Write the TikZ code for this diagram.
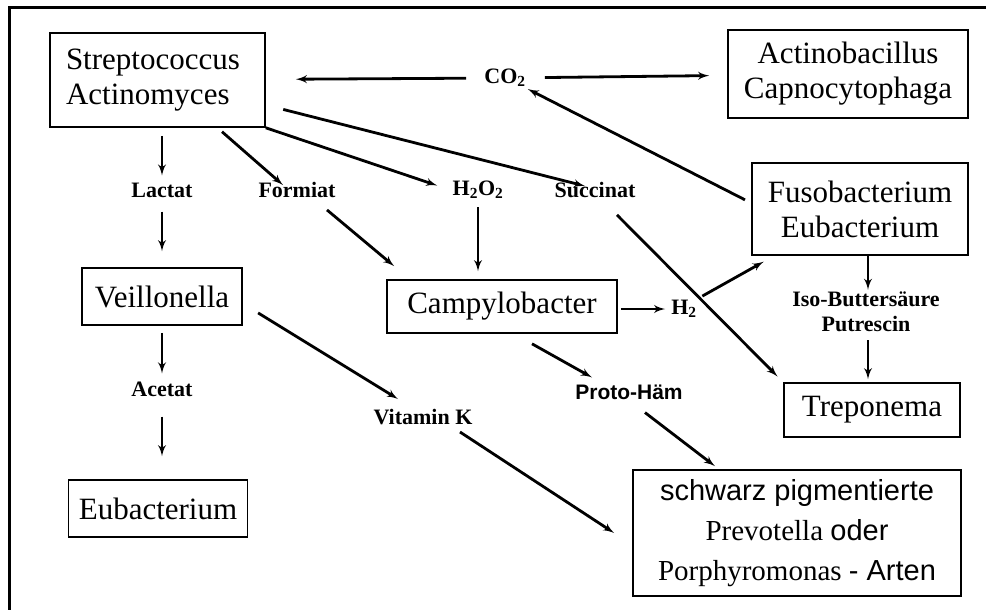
\documentclass[tikz,border=0pt]{standalone}
\usepackage{fontspec}
\setmainfont{Liberation Serif}
\newfontfamily\arial{Liberation Sans}
\usetikzlibrary{shapes,arrows}
\tikzstyle{block} = [rectangle, draw, line width=1.6pt, align=center,
    inner sep=0pt, font=\fontsize{31}{35}\selectfont]
\tikzstyle{stoff} = [inner sep=2pt, align=center, font=\fontsize{22}{25}\selectfont\bfseries]
\tikzstyle{line} = [draw, line width=2.8pt, -latex']

\begin{document}
\begin{tikzpicture}[x=1pt, y=-1pt, node distance=100pt]
	\useasboundingbox (0,0) rectangle (986,610);
	\draw [line width=3pt] (9,610) -- (9,8) -- (986,8);

		\node [block, align=left, text width=183pt, inner xsep=16pt, minimum height=94pt] (strep) at (157.5,80) {Streptococcus\\Actinomyces};
		\node [block, minimum width=240pt, minimum height=88pt] (actino) at (848,74) {Actinobacillus\\Capnocytophaga};
		\node [block, minimum width=216pt, minimum height=92pt] (fuso) at (860,209) {Fusobacterium\\Eubacterium};
		\node [block, minimum width=230pt, minimum height=53pt] (campy) at (502,306.5) {Campylobacter};
		\node [block, minimum width=176pt, minimum height=54pt] (trepo) at (872,410) {Treponema};
		\node [block, minimum width=328pt, minimum height=126pt, font=\fontsize{29}{40}\selectfont] (prev) at (797,533)
			{{\arial schwarz pigmentierte}\\Prevotella {\arial oder}\\Porphyromonas {\arial - Arten}};
		
		\node [stoff] (co2) at (505,78) {CO\textsubscript{2}};
		\node [stoff] (lactat) at (162,190) {Lactat};
		\node [block, below of=lactat, node distance=106.5pt, minimum width=160pt, minimum height=57pt] (veil) {Veillonella};
		\node [stoff, below of=veil, node distance=92.5pt] (acetat) {Acetat};
		\node [block, below of=acetat, node distance=119.5pt, xshift=-4pt, minimum width=179pt, minimum height=57pt] (eubac) {Eubacterium};
		\node [stoff] (formiat) at (297,190) {Formiat};
		\node [stoff] (h2o2) at (478,190) {H\textsubscript{2}O\textsubscript{2}};
		\node [stoff] (succinat) at (595,190) {Succinat};
		\node [stoff] (h2) at (684,309) {H\textsubscript{2}};
		\node [stoff] (iso) at (866,312) {Iso-Buttersäure\\Putrescin};
		\node [stoff, font=\fontsize{21}{25}\selectfont\bfseries\arial] (proto) at (629,392) {Proto-Häm};
		\node [stoff] (vitk) at (423,417) {Vitamin K};
		
		\path [line, shorten <=16pt, shorten >=30pt] (co2) -- (strep);
		\path [line, shorten <=17pt, shorten >=18pt] (co2) -- (actino);
		\path [line, shorten <=7pt] ([yshift=6pt]fuso.west) -- (co2.south east);
		\path [line, shorten <=8pt, shorten >=5pt] (lactat.north |- strep.south) -- (lactat.north);
		\path [line, shorten <=12pt, shorten >=16pt] (lactat.south) -- (lactat.south |- veil.north);
		\path [line, shorten <=6pt] ([xshift=60pt]strep.south) -- ([xshift=-14pt,yshift=-5pt]formiat.north);
		\path [line, shorten >=14pt] (strep.south east) -- (h2o2.west);
		\path [line, shorten <=18pt] ([yshift=-25pt]strep.east) -- ([xshift=-10pt,yshift=-6pt]succinat.north);
		\path [line] ([xshift=30pt,yshift=-10pt]formiat.south) -- ([xshift=8pt,yshift=13pt]campy.north west);
		\path [line, shorten <=6pt, shorten >=8pt] (h2o2.south) -- (h2o2.south |- campy.north);
		\path [line, shorten <=3pt, shorten >=4pt] (campy.east |- h2) -- (h2.west);
		\path [line, shorten <=4pt, shorten >=12pt] (h2.north east) -- ([xshift=23pt]fuso.south west);
		\path [line, shorten >=8pt] ([xshift=22pt,yshift=-15pt]succinat.south) -- (trepo.north west);
		\path [line] ([xshift=2pt]iso.north |- fuso.south) -- ([xshift=2pt]iso.north);
		\path [line, shorten <=6pt, shorten >=3pt] ([xshift=2pt]iso.south) -- ([xshift=2pt]iso.south |- trepo.north);
		\path [line] ([xshift=30pt,yshift=-10pt]campy.south) -- ([xshift=-37pt,yshift=5pt]proto.north);
		\path [line] ([xshift=16pt,yshift=-11pt]proto.south) -- ([xshift=-82pt,yshift=3pt]prev.north);
		\path [line, shorten <=18pt] ([yshift=-7pt]veil.east) -- ([xshift=-25pt,yshift=8pt]vitk.north);
		\path [line] ([xshift=37pt,yshift=-5pt]vitk.south) -- ([xshift=-18pt]prev.west);
		\path [line, shorten <=7pt, shorten >=6pt] (acetat.north |- veil.south) -- (acetat.north);
		\path [line, shorten <=18pt, shorten >=23pt] (acetat.south) -- (acetat.south |- eubac.north);
	\end{tikzpicture}
\end{document}
